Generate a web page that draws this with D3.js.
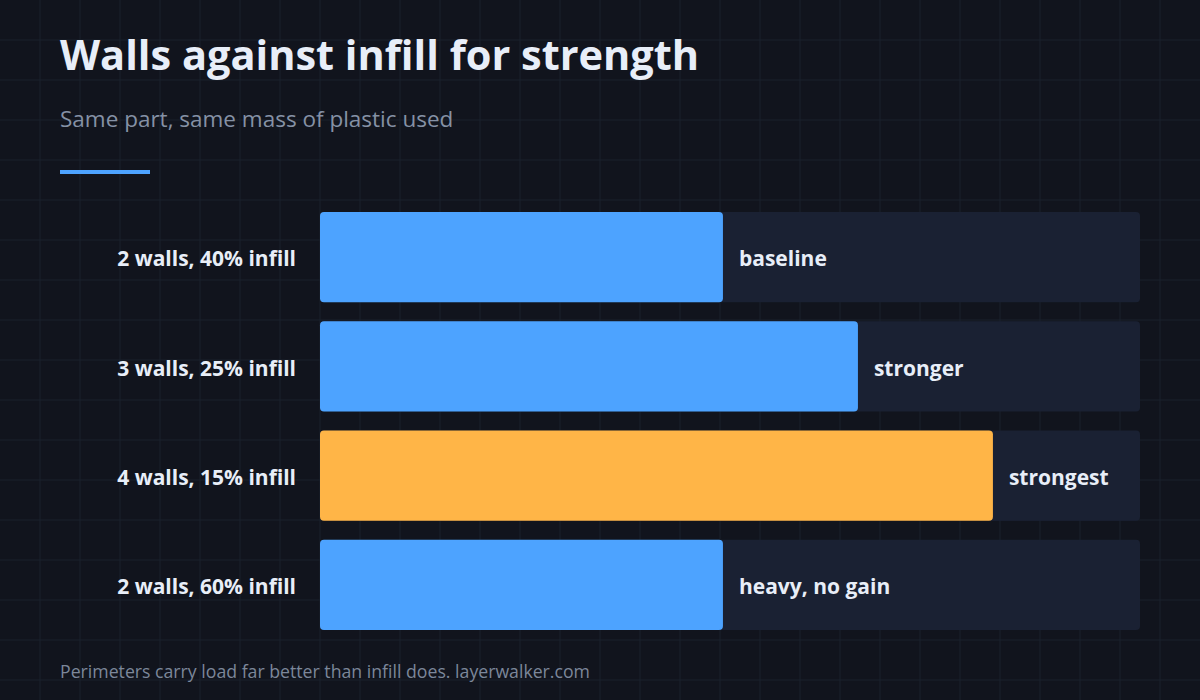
<!DOCTYPE html>
<html><head><meta charset="utf-8">
<script src="https://cdn.jsdelivr.net/npm/d3@7"></script>
<style>
html,body{margin:0;padding:0;background:#11141d;}
svg{display:block;}
text{font-family:"Open Sans","Noto Sans",sans-serif;}
</style></head>
<body>
<script>
const categories = ["2 walls, 40% infill","3 walls, 25% infill","4 walls, 15% infill","2 walls, 60% infill"];
const strength = [100, 133.5, 167, 100];
const notes = ["baseline","stronger","strongest","heavy, no gain"];
const highlight = [false, false, true, false];
const title = "Walls against infill for strength";
const subtitle = "Same part, same mass of plastic used";
const footer = "Perimeters carry load far better than infill does. layerwalker.com";

const W = 1200, H = 700;
const svg = d3.select("body").append("svg").attr("width", W).attr("height", H);
svg.append("rect").attr("width", W).attr("height", H).attr("fill", "#11141d");

const grid = svg.append("g");
grid.selectAll("line.v").data(d3.range(40, W, 40)).join("line")
  .attr("x1", d => d).attr("x2", d => d).attr("y1", 0).attr("y2", H)
  .attr("stroke", "#1b202c").attr("stroke-width", 1);
grid.selectAll("line.h").data(d3.range(40, H, 40)).join("line")
  .attr("y1", d => d).attr("y2", d => d).attr("x1", 0).attr("x2", W)
  .attr("stroke", "#1b202c").attr("stroke-width", 1);

svg.append("text").attr("x", 60).attr("y", 70).text(title)
  .attr("fill", "#e8eef8").attr("font-size", 41.5).attr("font-weight", 700);
svg.append("text").attr("x", 60).attr("y", 127).text(subtitle)
  .attr("fill", "#8591a5").attr("font-size", 22.5);
svg.append("rect").attr("x", 60).attr("y", 170).attr("width", 90).attr("height", 4)
  .attr("fill", "#4da3ff");

const x = d3.scaleLinear().domain([0, 203.5]).range([320, 1140]);
const y = d3.scaleBand().domain(categories).range([212, 630]).paddingInner(19/109).paddingOuter(0);

const rows = svg.append("g").selectAll("g").data(categories).join("g");
rows.append("rect")
  .attr("x", x(0)).attr("y", d => y(d)).attr("width", x.range()[1] - x(0)).attr("height", y.bandwidth())
  .attr("rx", 4).attr("fill", "#1a2133");
rows.append("rect")
  .attr("x", x(0)).attr("y", d => y(d)).attr("width", (d, i) => x(strength[i]) - x(0)).attr("height", y.bandwidth())
  .attr("rx", 4).attr("fill", (d, i) => highlight[i] ? "#ffb547" : "#4da3ff");
rows.append("text")
  .attr("x", 296).attr("y", d => y(d) + y.bandwidth() / 2 + 2).attr("dy", "0.35em")
  .attr("text-anchor", "end").attr("fill", "#e8eef8").attr("font-size", 21).attr("font-weight", 700)
  .text(d => d);
rows.append("text")
  .attr("x", (d, i) => x(strength[i]) + 16).attr("y", d => y(d) + y.bandwidth() / 2 + 2).attr("dy", "0.35em")
  .attr("fill", "#e8eef8").attr("font-size", 21).attr("font-weight", 700)
  .text((d, i) => notes[i]);

svg.append("text").attr("x", 60).attr("y", 678).text(footer)
  .attr("fill", "#7c879a").attr("font-size", 17.7);
</script>
</body></html>
